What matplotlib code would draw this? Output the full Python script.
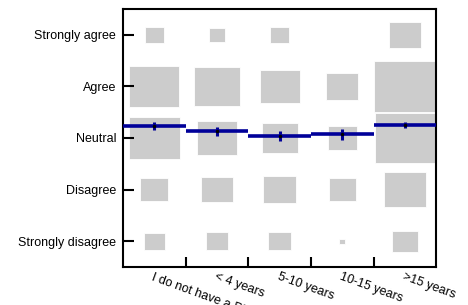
import numpy as np
import matplotlib.pyplot as plt
from matplotlib.patches import Rectangle

plt.rcParams['font.family'] = ['Liberation Sans', 'DejaVu Sans']

# kategori dan label
groups = ["I do not have a PhD", "< 4 years", "5-10 years", "10-15 years", ">15 years"]
answers = ["Strongly disagree", "Disagree", "Neutral", "Agree", "Strongly agree"]

# jumlah jawaban per skor (1..5) untuk tiap kelompok
strongly_disagree = [11, 13, 13, 1, 17]
disagree = [20, 25, 28, 19, 46]
neutral = [68, 42, 33, 21, 92]
agree = [64, 55, 41, 26, 100]
strongly_agree = [9, 7, 9, 0, 26]

counts = np.array([strongly_disagree, disagree, neutral, agree, strongly_agree])

fig = plt.figure(figsize=(4.68, 3.05), dpi=100)
ax = fig.add_axes([0.263, 0.1246, 0.669, 0.8459])

skala = 0.1  # sisi kotak = skala * sqrt(jumlah)
for j in range(len(groups)):
    for i in range(len(answers)):
        s = skala * np.sqrt(counts[i, j])
        if s <= 0:
            continue
        ax.add_patch(Rectangle((j + 1 - s / 2, i + 1 - s / 2), s, s,
                               facecolor='#cccccc', edgecolor='white', lw=0.6, zorder=1))

# rata-rata dan standard error
skor = np.arange(1, 6)[:, None]
n = counts.sum(axis=0)
rata = (counts * skor).sum(axis=0) / n
sd = np.sqrt((counts * (skor - rata) ** 2).sum(axis=0) / (n - 1))
se = sd / np.sqrt(n)

for j in range(len(groups)):
    x = j + 1
    ax.plot([x - 0.5, x + 0.5], [rata[j], rata[j]], color='#000099', lw=2.6,
            solid_capstyle='butt', zorder=3)
    ax.plot([x, x], [rata[j] - se[j], rata[j] + se[j]], color='#000099', lw=2.2,
            solid_capstyle='butt', zorder=4)
    ax.plot(x, rata[j], 'o', color='black', ms=1.5, zorder=5)

ax.set_xlim(0.5, 5.5)
ax.set_ylim(0.5, 5.5)

ax.set_yticks(range(1, 6))
ax.set_yticklabels(answers, fontsize=9)
ax.tick_params(axis='y', direction='in', length=8, width=1.5, pad=5)

ax.set_xticks([1.5, 2.5, 3.5, 4.5])
ax.set_xticklabels([])
ax.tick_params(axis='x', which='major', direction='in', length=7, width=1.5)
ax.set_xticks(range(1, 6), minor=True)
ax.set_xticklabels(groups, minor=True, fontsize=9, rotation=-20,
                   ha='left', va='top', rotation_mode='anchor')
ax.tick_params(axis='x', which='minor', length=0, pad=3)

for sp in ax.spines.values():
    sp.set_linewidth(1.5)

fig.savefig('out.png', dpi=100)
